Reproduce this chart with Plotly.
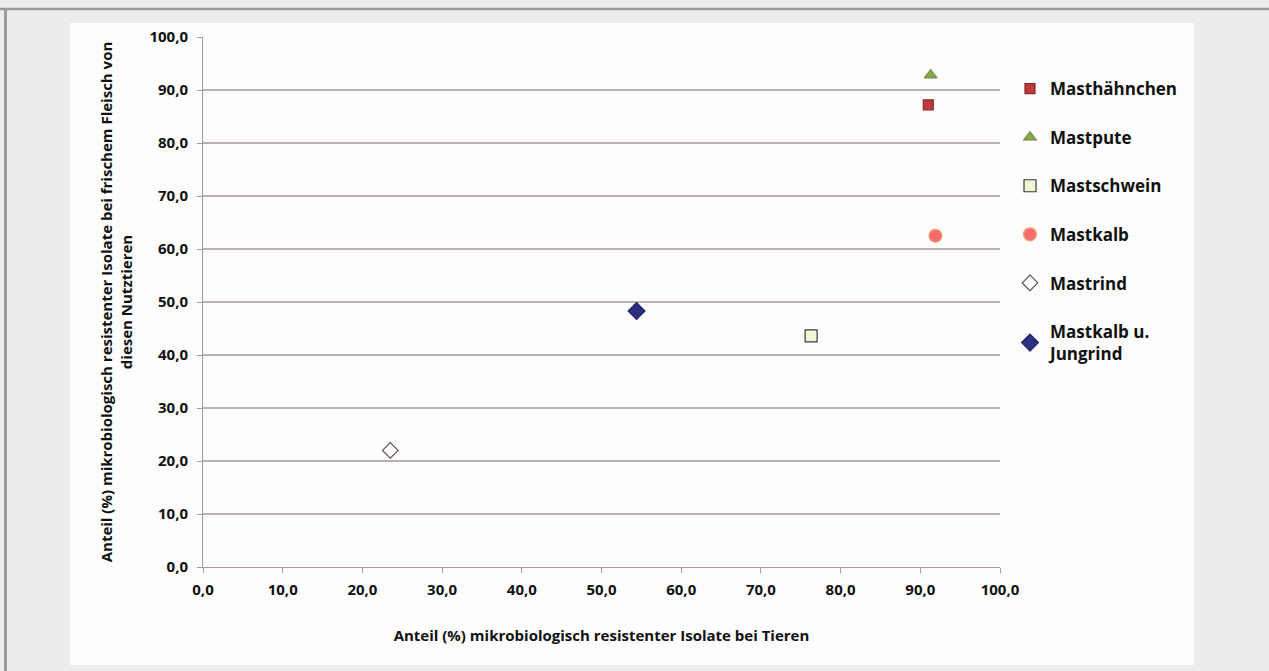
import plotly.graph_objects as go

# Anteil resistenter Isolate: Tiere (x) vs. frisches Fleisch (y)
categories = ["Masthähnchen", "Mastpute", "Mastschwein", "Mastkalb", "Mastrind", "Mastkalb u.<br>Jungrind"]
anteil_tiere = [91.0, 91.3, 76.3, 91.9, 23.5, 54.4]
anteil_fleisch = [87.2, 92.8, 43.6, 62.5, 22.0, 48.3]
axis_ticks = [0, 10, 20, 30, 40, 50, 60, 70, 80, 90, 100]

symbols = ["square", "triangle-up", "square", "circle", "diamond", "diamond"]
fills = ["#be3b3b", "#84a84e", "#f2f5d6", "#f26d6d", "#ffffff", "#2e2e7e"]
edges = ["#8a2a2a", "#6f8f3e", "#3a3a3a", "#f3a06a", "#505050", "#24246a"]
sizes = [10, 11, 12, 13, 12, 13]

W, H = 1269, 671
L, R, T, B = 203, 1000, 37, 567  # plot area in pixels


def px(x):
    return (x - L) / (R - L)


def py(y):
    return (B - y) / (B - T)


font_family = "Open Sans"
text_col = "#111111"

fig = go.Figure()
for i, name in enumerate(categories):
    fig.add_trace(go.Scatter(
        x=[anteil_tiere[i]], y=[anteil_fleisch[i]],
        mode="markers", name=name, legendgroup=name,
        marker=dict(symbol=symbols[i], size=sizes[i], color=fills[i],
                    line=dict(color=edges[i], width=1.2)),
    ))

grid_col = "#bdb0b0"
tick_font = dict(family=font_family, size=15, color=text_col, weight="bold")

fig.update_layout(
    width=W, height=H,
    margin=dict(l=L, r=W - R, t=T, b=H - B),
    paper_bgcolor="#ececec", plot_bgcolor="#ffffff",
    separators=",.",
    showlegend=True,
    legend=dict(
        x=px(1010), y=py(71), xanchor="left", yanchor="top",
        font=dict(family=font_family, size=17, color=text_col, weight="bold"),
        bgcolor="rgba(0,0,0,0)", traceorder="grouped", tracegroupgap=23.5,
        itemsizing="trace",
    ),
    xaxis=dict(
        range=[0, 100], tickvals=axis_ticks, tickformat=".1f",
        showgrid=False, zeroline=False,
        showline=True, linecolor="#a89a9a", linewidth=1,
        ticks="outside", ticklen=5, tickcolor="#a89a9a",
        ticklabelstandoff=4,
        tickfont=tick_font,
        title=dict(text="Anteil (%) mikrobiologisch resistenter Isolate bei Tieren",
                   font=dict(family=font_family, size=15, color=text_col, weight="bold"),
                   standoff=32),
    ),
    yaxis=dict(
        range=[0, 100], tickvals=axis_ticks, tickformat=".1f",
        showgrid=True, gridcolor=grid_col, gridwidth=1.5, zeroline=False,
        showline=True, linecolor="#a89a9a", linewidth=1,
        ticks="outside", ticklen=5, tickcolor="#a89a9a",
        ticklabelstandoff=6,
        tickfont=tick_font,
        title=dict(text="Anteil (%) mikrobiologisch resistenter Isolate bei frischem Fleisch von<br>diesen Nutztieren",
                   font=dict(family=font_family, size=15, color=text_col, weight="bold"),
                   standoff=13),
    ),
    shapes=[
        dict(type="rect", xref="paper", yref="paper", layer="below",
             x0=px(70), x1=px(1194), y0=py(665), y1=py(23),
             fillcolor="#fdfdfd", line=dict(width=0)),
        dict(type="line", xref="paper", yref="paper",
             x0=px(0), x1=px(W), y0=py(9), y1=py(9),
             line=dict(color="#9c9c9c", width=2.5)),
        dict(type="line", xref="paper", yref="paper",
             x0=px(5.5), x1=px(5.5), y0=py(9), y1=py(H),
             line=dict(color="#9c9c9c", width=3)),
    ],
)

fig.write_html("out.html")
